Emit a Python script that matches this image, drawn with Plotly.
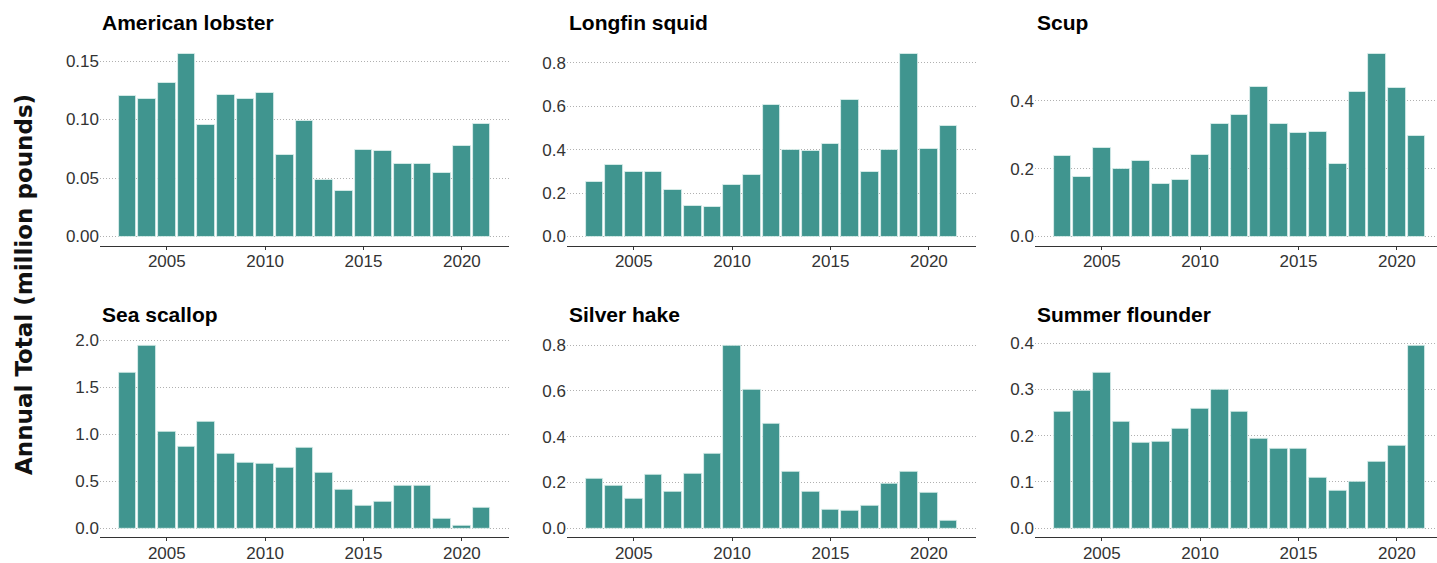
import plotly.graph_objects as go

years = list(range(2003, 2022))

species = ["American lobster", "Longfin squid", "Scup",
           "Sea scallop", "Silver hake", "Summer flounder"]

american_lobster = [0.120, 0.118, 0.131, 0.156, 0.0955, 0.121, 0.118, 0.123, 0.0695, 0.099,
                    0.048, 0.039, 0.074, 0.073, 0.062, 0.062, 0.054, 0.0775, 0.096]
longfin_squid = [0.252, 0.329, 0.299, 0.299, 0.216, 0.143, 0.137, 0.240, 0.285, 0.608,
                 0.400, 0.395, 0.426, 0.629, 0.296, 0.398, 0.841, 0.406, 0.509]
scup = [0.239, 0.175, 0.260, 0.200, 0.222, 0.155, 0.168, 0.242, 0.333, 0.359,
        0.442, 0.332, 0.306, 0.309, 0.2135, 0.427, 0.538, 0.439, 0.297]
sea_scallop = [1.655, 1.941, 1.028, 0.868, 1.139, 0.798, 0.693, 0.683, 0.645, 0.857,
               0.589, 0.411, 0.237, 0.286, 0.456, 0.453, 0.098, 0.031, 0.223]
silver_hake = [0.217, 0.186, 0.129, 0.236, 0.161, 0.240, 0.324, 0.797, 0.607, 0.457,
               0.246, 0.161, 0.081, 0.077, 0.100, 0.196, 0.249, 0.156, 0.034]
summer_flounder = [0.252, 0.2975, 0.336, 0.230, 0.184, 0.188, 0.214, 0.259, 0.2997, 0.252,
                   0.193, 0.172, 0.172, 0.110, 0.0806, 0.100, 0.144, 0.179, 0.394]

series = [american_lobster, longfin_squid, scup, sea_scallop, silver_hake, summer_flounder]

y_ticks = [
    [0.0, 0.05, 0.10, 0.15],
    [0.0, 0.2, 0.4, 0.6, 0.8],
    [0.0, 0.2, 0.4],
    [0.0, 0.5, 1.0, 1.5, 2.0],
    [0.0, 0.2, 0.4, 0.6, 0.8],
    [0.0, 0.1, 0.2, 0.3, 0.4],
]
y_formats = [".2f", ".1f", ".1f", ".1f", ".1f", ".1f"]
x_ticks = [2005, 2010, 2015, 2020]

W, H = 1437, 563
BAR = "rgb(64,149,143)"
TICKFONT = dict(family="Liberation Sans, Arial, sans-serif", size=17, color="#333333")

col_px = [(100, 509), (567, 976), (1035, 1437)]
row_px = [(40.6, 245), (337.7, 542)]

fig = go.Figure()
annotations = []

x_lo = years[0] - 0.45 - 0.05 * (len(years) - 1 + 0.9)
x_hi = years[-1] + 0.45 + 0.05 * (len(years) - 1 + 0.9)
full_w = 409.0

for i, (name, vals) in enumerate(zip(species, series)):
    r, c = divmod(i, 3)
    k = "" if i == 0 else str(i + 1)
    x0, x1 = col_px[c]
    top, bot = row_px[r]
    fig.add_trace(go.Bar(
        x=years, y=vals, width=0.9,
        marker=dict(color=BAR, line=dict(color="rgba(225,242,240,1)", width=0.8)),
        xaxis="x" + k, yaxis="y" + k, showlegend=False,
    ))
    hi = x_lo + (x1 - x0) / full_w * (x_hi - x_lo)
    vmax = max(vals)
    fig.layout["xaxis" + k] = dict(
        domain=[x0 / W, x1 / W], anchor="y" + k,
        range=[x_lo, hi], tickvals=x_ticks, showgrid=False, zeroline=False,
        showline=True, linecolor="#333333", linewidth=1.2,
        ticks="outside", ticklen=3, tickcolor="#333333", tickwidth=1,
        tickfont=TICKFONT, ticklabelstandoff=-3,
    )
    fig.layout["yaxis" + k] = dict(
        domain=[(H - bot) / H, (H - top) / H], anchor="x" + k,
        range=[-0.05 * vmax, 1.05 * vmax], tickvals=y_ticks[i], tickformat=y_formats[i],
        showgrid=True, gridcolor="#b0b0b0", griddash="1px,2px", gridwidth=1,
        zeroline=False, showline=False, ticks="", tickfont=TICKFONT,
    )
    annotations.append(dict(
        text="<b>" + name + "</b>", x=x0 / W, y=(H - (18 if r == 0 else 315)) / H,
        xref="paper", yref="paper", xanchor="left", yanchor="middle", showarrow=False,
        font=dict(family="Liberation Sans, Arial, sans-serif", size=21, color="#000000"),
    ))

annotations.append(dict(
    text="<b>Annual Total (million pounds)</b>", x=24 / W, y=(H - 285) / H,
    xref="paper", yref="paper", xanchor="center", yanchor="middle", showarrow=False,
    textangle=-90,
    font=dict(family="DejaVu Sans, sans-serif", size=23, color="#111111"),
))

fig.update_layout(
    width=W, height=H, margin=dict(l=0, r=0, t=0, b=0),
    paper_bgcolor="white", plot_bgcolor="white",
    annotations=annotations, bargap=0,
)

fig.write_html("out.html", config={"displayModeBar": False},
               post_script="document.body.style.margin='0';")
